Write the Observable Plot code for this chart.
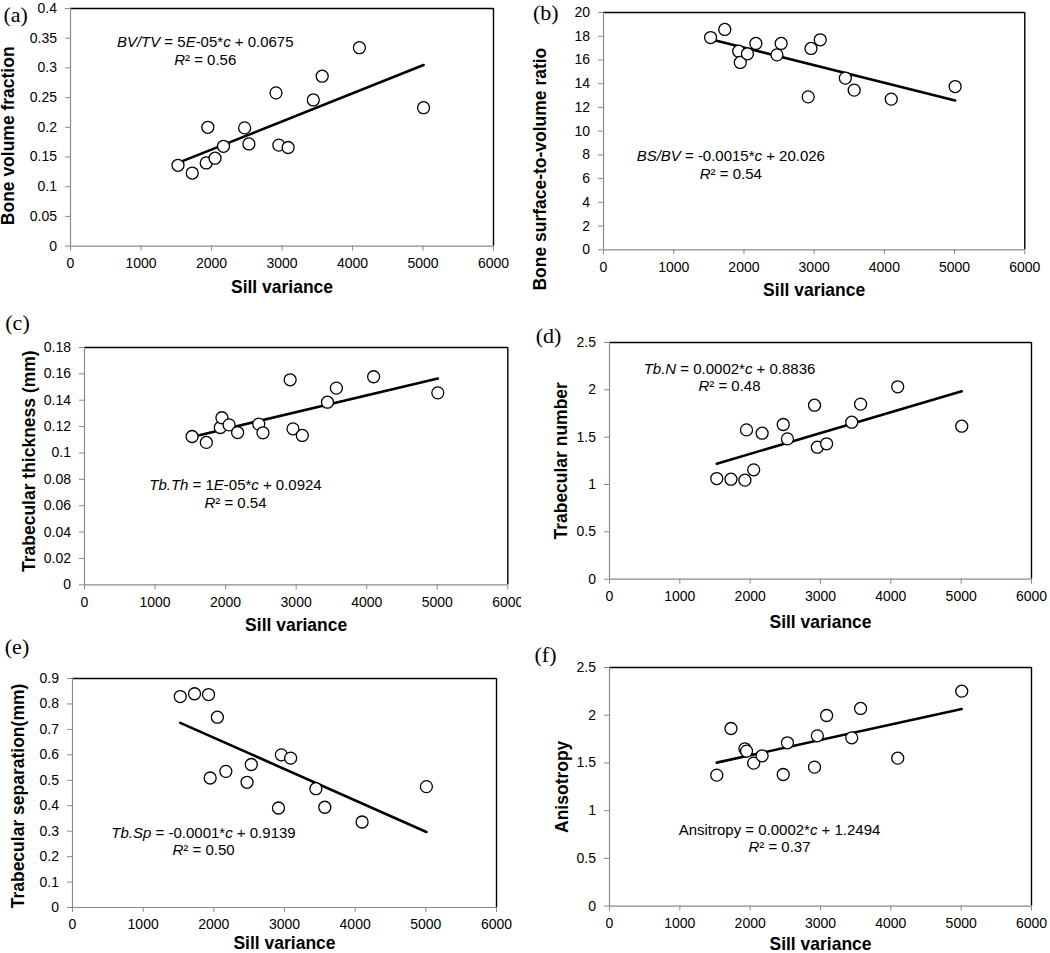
<!DOCTYPE html>
<html><head><meta charset="utf-8">
<script src="https://cdn.jsdelivr.net/npm/d3@7"></script>
<script src="https://cdn.jsdelivr.net/npm/@observablehq/plot@0.6"></script>
<style>
body{margin:0;background:#fff;}
#wrap{position:relative;width:1050px;height:953px;overflow:hidden;background:#fff;}
#wrap svg{position:absolute;max-width:none;}
</style></head><body><div id="wrap"></div>
<script>
// Shared x values: sill variance of the 15 samples
const sill = [1525, 1727, 1925, 1948, 2050, 2170, 2470, 2530, 2915, 2955, 3087, 3444, 3570, 4098, 5008];
// Series values (same sample order)
const bvtv  = [0.136, 0.123, 0.140, 0.200, 0.148, 0.168, 0.199, 0.172, 0.258, 0.170, 0.166, 0.246, 0.286, 0.334, 0.233];
const bsbv  = [17.89, 18.57, 16.74, 15.79, 16.52, 17.39, 16.43, 17.39, 12.89, 16.97, 17.70, 14.47, 13.46, 12.70, 13.76];
const tbth  = [0.1125, 0.108, 0.1193, 0.1267, 0.1213, 0.1155, 0.1219, 0.1153, 0.1555, 0.1183, 0.1133, 0.1385, 0.1492, 0.1578, 0.1456];
const tbn   = [1.063, 1.056, 1.046, 1.577, 1.155, 1.542, 1.634, 1.482, 1.838, 1.394, 1.430, 1.658, 1.849, 2.032, 1.616];
const tbsp  = [0.829, 0.840, 0.837, 0.509, 0.748, 0.535, 0.492, 0.562, 0.391, 0.600, 0.587, 0.467, 0.394, 0.336, 0.475];
const aniso = [1.372, 1.861, 1.648, 1.624, 1.498, 1.575, 1.379, 1.711, 1.456, 1.784, 1.997, 1.763, 2.071, 1.550, 2.252];

// Tick values
const xTicks = [0, 1000, 2000, 3000, 4000, 5000, 6000];
const ticksA = [0, 0.05, 0.1, 0.15, 0.2, 0.25, 0.3, 0.35, 0.4];
const ticksB = [0, 2, 4, 6, 8, 10, 12, 14, 16, 18, 20];
const ticksC = [0, 0.02, 0.04, 0.06, 0.08, 0.1, 0.12, 0.14, 0.16, 0.18];
const ticksD = [0, 0.5, 1, 1.5, 2, 2.5];
const ticksE = [0, 0.1, 0.2, 0.3, 0.4, 0.5, 0.6, 0.7, 0.8, 0.9];
const ticksF = [0, 0.5, 1, 1.5, 2, 2.5];

// Labels and equations (underscores mark italic parts)
const letters = ["(a)", "(b)", "(c)", "(d)", "(e)", "(f)"];
const yLabels = ["Bone volume fraction", "Bone surface-to-volume ratio", "Trabecular thickness (mm)",
                 "Trabecular number", "Trabecular separation(mm)", "Anisotropy"];
const xLabel = "Sill variance";
const equations = ["_BV/TV_ = 5_E_-05*_c_ + 0.0675", "_BS/BV_ = -0.0015*_c_ + 20.026", "_Tb.Th_ = 1_E_-05*_c_ + 0.0924",
                   "_Tb.N_ = 0.0002*_c_ + 0.8836", "_Tb.Sp_ = -0.0001*_c_ + 0.9139", "Ansitropy = 0.0002*_c_ + 1.2494"];
const r2 = ["_R_² = 0.56", "_R_² = 0.54", "_R_² = 0.54", "_R_² = 0.48", "_R_² = 0.50", "_R_² = 0.37"];

// Layout (pixel frames and offsets)
const layout = [
  {y: bvtv,  ticks: ticksA, yMax: 0.4,  frame: {l: 70.3, r: 493.3, t: 7.7,   b: 245.3}, eq: [1911, 0.343, 0.313],  let: [-54.8, 6.3],  yt: [-61.8, 8.5], xt: 41.7},
  {y: bsbv,  ticks: ticksB, yMax: 20,   frame: {l: 602.7, r: 1024, t: 11.7,  b: 249},   eq: [1813, 7.92, 6.38],    let: [-57.7, 0.8],  yt: [-63.4, 38],  xt: 41},
  {y: tbth,  ticks: ticksC, yMax: 0.18, frame: {l: 84,   r: 507.3, t: 347,   b: 584.3}, eq: [2140, 0.0753, 0.0622], let: [-67, -25],   yt: [-55, -5],    xt: 41, clipRight: 521, ml: 95},
  {y: tbn,   ticks: ticksD, yMax: 2.5,  frame: {l: 609,  r: 1031,  t: 342,   b: 578.7}, eq: [1706, 2.215, 2.035],  let: [-61, -7],     yt: [-48, 0],     xt: 43},
  {y: tbsp,  ticks: ticksE, yMax: 0.9,  frame: {l: 72,   r: 496,   t: 678.3, b: 907.3}, eq: [1854, 0.291, 0.225],  let: [-55.5, -31.3], yt: [-53.7, 3],  xt: 36},
  {y: aniso, ticks: ticksF, yMax: 2.5,  frame: {l: 609,  r: 1031,  t: 666.7, b: 905.3}, eq: [2417, 0.796, 0.614],  let: [-64, -12.7],  yt: [-47.3, 0],   xt: 38}
];

const wrap = document.getElementById("wrap");
const AXIS_GRAY = "#8a8a8a";
const SANS = "'Liberation Sans', Arial, Helvetica, sans-serif";

layout.forEach((p, i) => {
  const ml = p.ml || 75, mt = 40, mb = 55;
  const mr = p.clipRight ? (p.clipRight - p.frame.r) : 40;
  const fw = p.frame.r - p.frame.l, fh = p.frame.b - p.frame.t;
  const data = sill.map((x, k) => ({x, y: p.y[k]}));
  const eqData = [{x: p.eq[0], y: p.eq[1], t: equations[i]}, {x: p.eq[0], y: p.eq[2], t: r2[i]}];
  const svg = Plot.plot({
    width: fw + ml + mr, height: fh + mt + mb,
    marginLeft: ml, marginRight: mr, marginTop: mt, marginBottom: mb,
    style: {fontFamily: SANS, fontSize: "14px", background: "none", overflow: p.clipRight ? "hidden" : "visible", color: "black"},
    x: {domain: [0, 6000]},
    y: {domain: [0, p.yMax]},
    marks: [
      Plot.ruleY([p.yMax], {stroke: "black", strokeWidth: 1.4}),
      Plot.ruleX([6000], {stroke: "black", strokeWidth: 1.4}),
      Plot.ruleY([0], {stroke: AXIS_GRAY, strokeWidth: 1.2}),
      Plot.ruleX([0], {stroke: AXIS_GRAY, strokeWidth: 1.2}),
      Plot.axisX({ticks: xTicks, tickSize: 5, tickPadding: 7, tickFormat: d => String(d), stroke: AXIS_GRAY, fill: "black", fontSize: 14, label: null}),
      Plot.axisY({ticks: p.ticks, tickSize: 5, tickPadding: 8.5, tickFormat: d => String(d), stroke: AXIS_GRAY, fill: "black", fontSize: 14, label: null}),
      Plot.linearRegressionY(data, {x: "x", y: "y", stroke: "black", strokeWidth: 2.6, ci: 0}),
      Plot.dot(data, {x: "x", y: "y", r: 6, stroke: "black", fill: "white", strokeWidth: 1.3}),
      Plot.text(eqData, {x: "x", y: "y", text: "t", fontSize: 15, textAnchor: "middle", lineAnchor: "middle", fill: "black"}),
      Plot.text([yLabels[i]], {text: d => d, frameAnchor: "left", rotate: -90, dx: p.yt[0], dy: p.yt[1],
        textAnchor: "middle", lineAnchor: "middle", fontSize: 17.5, fontWeight: "bold", fill: "black"}),
      Plot.text([xLabel], {text: d => d, frameAnchor: "bottom", dy: p.xt,
        textAnchor: "middle", lineAnchor: "middle", fontSize: 17.5, fontWeight: "bold", fill: "black"}),
      Plot.text([letters[i]], {text: d => d, frameAnchor: "top-left", dx: p.let[0], dy: p.let[1],
        textAnchor: "middle", lineAnchor: "middle", fontSize: 22, fontFamily: "'Liberation Serif', 'Times New Roman', serif", fill: "black"})
    ]
  });
  // Convert underscore markup into italic tspans
  svg.querySelectorAll("text").forEach(t => {
    const s = t.textContent;
    if (!s.includes("_")) return;
    const parts = s.split("_");
    while (t.firstChild) t.removeChild(t.firstChild);
    parts.forEach((part, k) => {
      if (!part) return;
      const ts = document.createElementNS("http://www.w3.org/2000/svg", "tspan");
      ts.textContent = part;
      if (k % 2 === 1) ts.setAttribute("font-style", "italic");
      t.appendChild(ts);
    });
  });
  svg.style.left = (p.frame.l - ml) + "px";
  svg.style.top = (p.frame.t - mt) + "px";
  wrap.appendChild(svg);
});
</script>
</body></html>
